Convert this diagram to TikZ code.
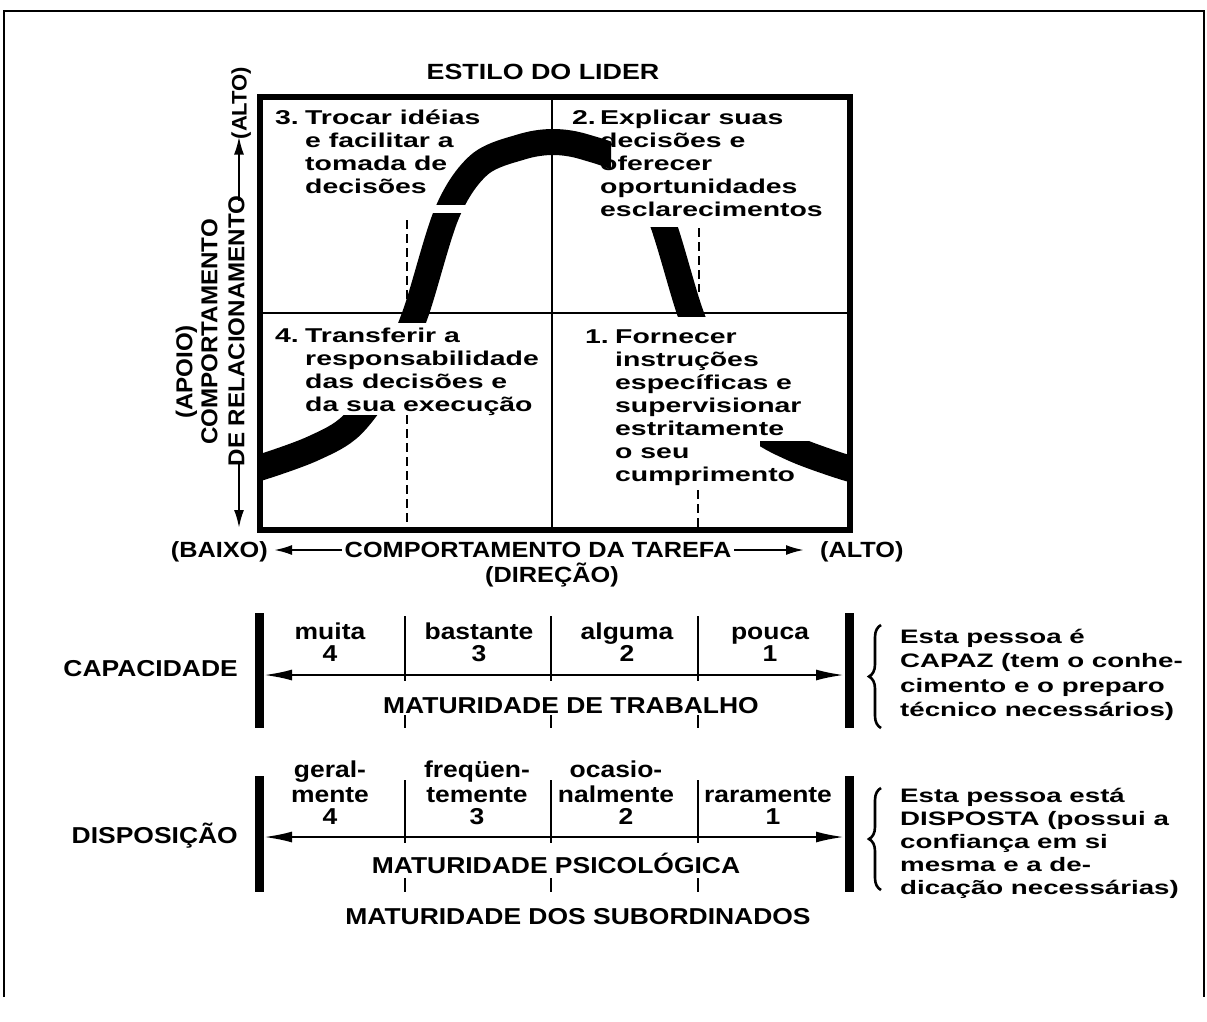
\documentclass[tikz,border=0pt]{standalone}
\usepackage{fontspec}
\setmainfont{Liberation Sans}
\newfontfamily\qfont[FakeStretch=1.42]{Liberation Sans}
\newfontfamily\tfont[FakeStretch=1.22]{Liberation Sans}
\newfontfamily\afont[FakeStretch=1.05]{Liberation Sans}
\newfontfamily\lfont[FakeStretch=1.15]{Liberation Sans}
\usetikzlibrary{arrows.meta,decorations.pathreplacing}

% centre line of the bell-shaped style curve
\newcommand\bellband{%
  \draw[band] plot[smooth,tension=0.55] coordinates {(236,473) (262,467) (314,448) (352,425) (388,375) (415,315) (447,213) (479,165) (521,147) (553,142) (585,147) (627,165) (659,213) (691,315) (718,375) (754,425) (792,448) (844,467) (870,473)};}

\begin{document}
\begin{tikzpicture}[x=1pt,y=-1pt,
  qtext/.style={font=\qfont\bfseries\fontsize{20}{23}\selectfont, inner sep=0pt, text height=14.3pt, text depth=0pt, anchor=west},
  note/.style={font=\qfont\bfseries\fontsize{19.5}{24}\selectfont, inner sep=0pt, text height=14pt, text depth=0pt, anchor=west},
  title/.style={font=\tfont\bfseries\fontsize{22}{26}\selectfont, inner sep=0pt, text height=15.8pt, text depth=0pt},
  axlab/.style={font=\afont\bfseries\fontsize{23}{26}\selectfont, inner sep=0pt, text height=16.5pt, text depth=0pt, rotate=90},
  lab/.style={font=\lfont\bfseries\fontsize{23}{27}\selectfont, inner sep=0pt, text height=16.5pt, text depth=0pt},
  blab/.style={font=\lfont\bfseries\fontsize{22}{26}\selectfont, inner sep=0pt, text height=15.8pt, text depth=0pt},
  band/.style={line width=26pt, line cap=butt, line join=round},
  guide/.style={line width=1.6pt, dash pattern=on 9pt off 5pt},
  bar/.style={line width=9pt},
  tick/.style={line width=1.6pt},
  axarrow/.style={line width=2.2pt, -{Latex[length=18pt,width=10pt]}},
  dbl/.style={line width=2.2pt, {Latex[length=28pt,width=11pt]}-{Latex[length=28pt,width=11pt]}},
  brace/.style={line width=2.6pt, decorate, decoration={brace, amplitude=12pt, aspect=0.5}}
]
\path[use as bounding box] (0,0) rectangle (1207,1021);

% outer frame, open at the bottom
\draw[line width=2pt] (4,997) -- (4,11) -- (1204,11) -- (1204,997);

% ---------- style grid ----------
\node[title] (title) at (543,72) {ESTILO DO LIDER};

\draw[line width=2pt] (552,97) -- (552,530);
\draw[line width=2pt] (260,313) -- (850,313);

% dashed guides
\draw[guide] (407,220) -- (407,300);
\draw[guide] (699,228) -- (699,292);
\draw[guide] (407,415) -- (407,530);
\draw[guide] (698,490) -- (698,530);

% bell curve, broken where the texts stand
\begin{scope}\clip (258,415) rectangle (400,532); \bellband \end{scope}
\begin{scope}\clip (380,213) rectangle (480,322); \bellband \end{scope}
\begin{scope}\clip (400,100) rectangle (611,204); \bellband \end{scope}
\begin{scope}\clip (620,227) rectangle (740,316); \bellband \end{scope}
\begin{scope}\clip (760,441) rectangle (852,532); \bellband \end{scope}

\draw[line width=6pt] (260,97) rectangle (850,530);

% quadrant texts
\node[qtext] (n3) at (275,117) {3.};
\foreach \t [count=\i] in {Trocar idéias, e facilitar a, tomada de, decisões}
  \node[qtext] (q3-\i) at (305,{117+23*(\i-1)}) {\t};
\node[qtext] (n2) at (572,117) {2.};
\foreach \t [count=\i] in {Explicar suas, decisões e, oferecer, oportunidades, esclarecimentos}
  \node[qtext] (q2-\i) at (600,{117+23*(\i-1)}) {\t};
\node[qtext] (n4) at (275,335) {4.};
\foreach \t [count=\i] in {Transferir a, responsabilidade, das decisões e, da sua execução}
  \node[qtext] (q4-\i) at (305,{335+23*(\i-1)}) {\t};
\node[qtext] (n1) at (585,336) {1.};
\foreach \t [count=\i] in {Fornecer, instruções, específicas e, supervisionar, estritamente, o seu, cumprimento}
  \node[qtext] (q1-\i) at (615,{336+23*(\i-1)}) {\t};

% vertical axis
\node[axlab] (apoio) at (184,372) {(APOIO)};
\node[axlab] (comp) at (209,332) {COMPORTAMENTO};
\node[axlab] (rel) at (236,331) {DE RELACIONAMENTO};
\node[axlab, font=\afont\bfseries\fontsize{21}{24}\selectfont, text height=15pt] (altov) at (239,103) {(ALTO)};
\coordinate (downto) at (239,528);
\draw[axarrow] ([xshift=3pt,yshift=-5pt]rel.east) -- ([yshift=3pt]altov.west);
\draw[axarrow] ([xshift=3pt,yshift=5pt]rel.west) -- (downto);

% horizontal axis
\node[blab] (tarefa) at (538,550) {COMPORTAMENTO DA TAREFA};
\node[blab, anchor=east] (baixo) at (268,550) {(BAIXO)};
\node[blab, anchor=west] (altoh) at (820,550) {(ALTO)};
\draw[axarrow] ([xshift=-3pt]tarefa.west) -- ([xshift=6pt]baixo.east);
\draw[axarrow] ([xshift=3pt]tarefa.east) -- ([xshift=-16pt]altoh.west);
\node[blab] (direcao) at (552,575) {(DIREÇÃO)};

% ---------- job maturity ----------
\draw[bar] (259,613) -- (259,728);
\draw[bar] (849,613) -- (849,728);
\foreach \x in {405,551,698} {
  \draw[tick] (\x,616) -- (\x,681);
  \draw[tick] (\x,715) -- (\x,728);
}
\coordinate (a1l) at (264,675);
\coordinate (a1r) at (844,675);
\draw[dbl] (a1l) -- (a1r);
\foreach \x/\t/\n [count=\i] in {330/muita/4, 479/bastante/3, 627/alguma/2, 770/pouca/1} {
  \node[lab] (w\i) at (\x,631) {\t};
  \node[lab] (wn\i) at (\x,653) {\n};
}
\node[lab] (mtrab) at (571,705) {MATURIDADE DE TRABALHO};
\node[lab, anchor=east] (capac) at (238,668) {CAPACIDADE};
\draw[brace] (881,728) -- (881,625);
\foreach \t [count=\i] in {Esta pessoa é, CAPAZ (tem o conhe-, cimento e o preparo, técnico necessários)}
  \node[note] (ca-\i) at (900,{636+24.5*(\i-1)}) {\t};

% ---------- psychological maturity ----------
\draw[bar] (259,776) -- (259,892);
\draw[bar] (849,776) -- (849,892);
\foreach \x in {405,551,698} {
  \draw[tick] (\x,780) -- (\x,843);
  \draw[tick] (\x,878) -- (\x,892);
}
\coordinate (a2l) at (264,837);
\coordinate (a2r) at (844,837);
\draw[dbl] (a2l) -- (a2r);
\foreach \x/\a/\b/\n [count=\i] in {330/geral-/mente/4, 477/freqüen-/temente/3, 616/ocasio-/nalmente/2} {
  \node[lab] (p\i) at (\x,769) {\a};
  \node[lab] (pp\i) at (\x,794) {\b};
  \node[lab] (pn\i) at ({\x+(\i==3)*10},816) {\n};
}
\node[lab] (p4) at (768,794) {raramente};
\node[lab] (pn4) at (773,816) {1};
\node[lab] (mpsi) at (556,865) {MATURIDADE PSICOLÓGICA};
\node[lab, anchor=east] (dispo) at (238,835) {DISPOSIÇÃO};
\draw[brace] (881,890) -- (881,788);
\foreach \t [count=\i] in {Esta pessoa está, DISPOSTA (possui a, confiança em si, mesma e a de-, dicação necessárias)}
  \node[note] (di-\i) at (900,{795+23*(\i-1)}) {\t};

\node[lab] (msub) at (578,916) {MATURIDADE DOS SUBORDINADOS};
\end{tikzpicture}
\end{document}
